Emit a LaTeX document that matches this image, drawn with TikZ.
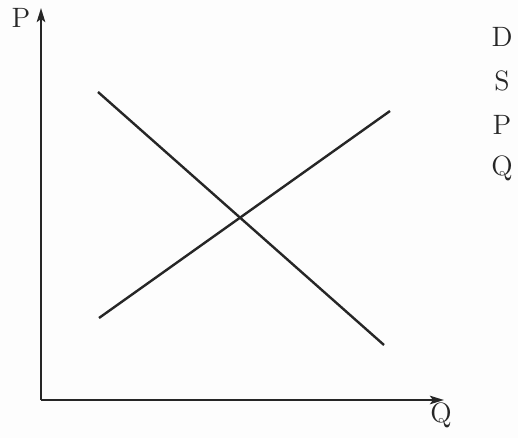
\documentclass[tikz,border=0pt]{standalone}
\usepackage{xcolor}
\usepackage{tikz}
\usetikzlibrary{arrows.meta,positioning}
\definecolor{inkgray}{HTML}{262626}
\definecolor{papergray}{HTML}{FDFDFD}
\tikzset{
  axisline/.style={-{Stealth[length=7pt,width=4.2pt,inset=1.5pt]},draw=inkgray,line width=1.2pt},
  curveline/.style={draw=inkgray,line width=1.2pt},
  letternode/.style={inner sep=0pt,font=\fontsize{14}{16}\selectfont,text=inkgray},
}
\begin{document}
\begin{tikzpicture}[x=0.5pt,y=-0.5pt]
    \useasboundingbox[fill=papergray] (0,0) rectangle (518,438);
    % axes
    \coordinate (o) at (41,400);
    \coordinate (ytop) at (41,8);
    \coordinate (xend) at (444,400);
    \draw[axisline] (o)--(ytop);
    \draw[axisline] (o)--(xend);
    \node[letternode] (plabel) at (21,18) {P};
    \node[letternode] (qlabel) at (441,415) {Q};
    % demand and supply
    \coordinate (d1) at (98,92);
    \coordinate (d2) at (384,345);
    \coordinate (s1) at (99,318);
    \coordinate (s2) at (390,111);
    \draw[curveline] (d1)--(d2);
    \draw[curveline] (s1)--(s2);
    % legend letters
    \node[letternode] (dkey) at (502,37) {D};
    \node[letternode] (skey) at (502,81) {S};
    \node[letternode] (pkey) at (502,125) {P};
    \node[letternode] (qkey) at (502,168) {Q};
  \end{tikzpicture}
\end{document}
